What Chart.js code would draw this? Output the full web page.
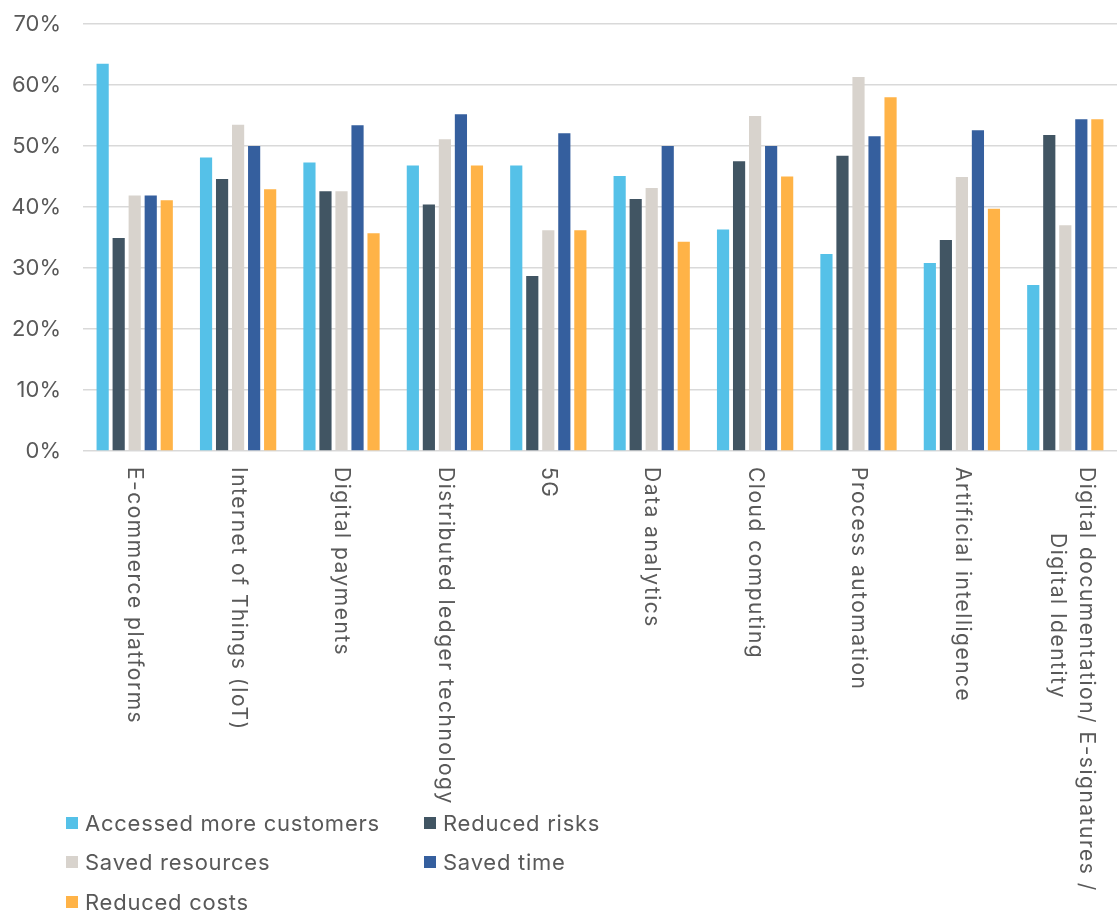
<!DOCTYPE html>
<html>
<head>
<meta charset="utf-8">
<script src="https://cdn.jsdelivr.net/npm/chart.js@4"></script>
<style>
  body { margin: 0; background: #fff; font-family: Inter, sans-serif; }
  #wrap { position: relative; width: 1119px; height: 915px; }
  #myChart { position: absolute; left: 0; top: 0; }
  #legend { position: absolute; left: 66px; top: 808px; display: grid; grid-template-columns: 358px 300px; row-gap: 10.5px; }
  .item { display: flex; align-items: center; font-size: 22px; letter-spacing: 0.75px; color: #595959; height: 29px; }
  .box { width: 12px; height: 12px; margin-right: 7px; }
</style>
</head>
<body>
<div id="wrap">
  <canvas id="myChart" width="1119" height="915"></canvas>
  <div id="legend"></div>
</div>
<script>
const categories = [
    'E-commerce platforms',
    'Internet of Things (IoT)',
    'Digital payments',
    'Distributed ledger technology',
    '5G',
    'Data analytics',
    'Cloud computing',
    'Process automation',
    'Artificial intelligence',
    ['Digital documentation/ E-signatures /', 'Digital Identity']
];

const seriesNames = ['Accessed more customers', 'Reduced risks', 'Saved resources', 'Saved time', 'Reduced costs'];
const seriesColors = ['#55C1E8', '#415563', '#D8D3CD', '#355F9E', '#FFB347'];

const accessedCustomers = [63.5, 48.1, 47.3, 46.8, 46.8, 45.1, 36.3, 32.3, 30.8, 27.2];
const reducedRisks      = [34.9, 44.6, 42.6, 40.4, 28.7, 41.3, 47.5, 48.4, 34.6, 51.8];
const savedResources    = [41.9, 53.5, 42.6, 51.1, 36.2, 43.1, 54.9, 61.3, 44.9, 37.0];
const savedTime         = [41.9, 50.0, 53.4, 55.2, 52.1, 50.0, 50.0, 51.6, 52.6, 54.4];
const reducedCosts      = [41.1, 42.9, 35.7, 46.8, 36.2, 34.3, 45.0, 58.0, 39.7, 54.4];

const yTicks = [0, 10, 20, 30, 40, 50, 60, 70];

const allSeries = [accessedCustomers, reducedRisks, savedResources, savedTime, reducedCosts];

// category labels turned clockwise (read top to bottom), chart.js only turns them the other way
const rotatedLabels = {
    id: 'rotatedLabels',
    afterDraw(chart) {
        const ctx = chart.ctx;
        const x = chart.scales.x;
        const top = chart.chartArea.bottom + 16;
        const lineH = 29;
        ctx.save();
        ctx.font = '21px Inter, sans-serif';
        ctx.letterSpacing = '1.5px';
        ctx.fillStyle = '#595959';
        ctx.textBaseline = 'middle';
        ctx.textAlign = 'left';
        categories.forEach((label, i) => {
            const lines = Array.isArray(label) ? label : [label];
            const cx = x.getPixelForValue(i) + (lines.length > 1 ? 7 : 0);
            lines.forEach((line, j) => {
                const off = (lines.length - 1) / 2 * lineH - j * lineH;
                ctx.save();
                ctx.translate(cx + off, top + (j > 0 ? 66 : 0));
                ctx.rotate(Math.PI / 2);
                ctx.fillText(line, 0, 0);
                ctx.restore();
            });
        });
        ctx.restore();
    }
};

const ctx = document.getElementById('myChart').getContext('2d');
const chart = new Chart(ctx, {
    type: 'bar',
    data: {
        labels: categories,
        datasets: allSeries.map((values, i) => ({
            label: seriesNames[i],
            data: values,
            backgroundColor: seriesColors[i],
            categoryPercentage: 0.775,
            barPercentage: 0.76
        }))
    },
    options: {
        responsive: false,
        animation: false,
        layout: { padding: { top: 24, right: 2, left: 0, bottom: 456 } },
        plugins: {
            legend: { display: false },
            tooltip: { enabled: false }
        },
        scales: {
            x: {
                grid: { display: false },
                border: { display: false },
                ticks: { display: false }
            },
            y: {
                min: 0,
                max: 70,
                afterBuildTicks(scale) { scale.ticks = yTicks.map(v => ({ value: v })); },
                afterFit(scale) { scale.width = 83; },
                // invisible tick marks keep the gap between labels and plot
                grid: { color: '#D9D9D9', lineWidth: 1.5, drawTicks: true, tickLength: 22, tickColor: 'rgba(0,0,0,0)' },
                border: { display: false },
                ticks: {
                    padding: 0,
                    color: '#595959',
                    font: { family: 'Inter, sans-serif', size: 22 },
                    callback: v => v + '%'
                }
            }
        }
    },
    plugins: [rotatedLabels]
});

const legendEl = document.getElementById('legend');
seriesNames.forEach((name, i) => {
    const item = document.createElement('div');
    item.className = 'item';
    item.innerHTML = '<span class="box" style="background:' + seriesColors[i] + '"></span>' + name;
    legendEl.appendChild(item);
});
</script>
</body>
</html>
